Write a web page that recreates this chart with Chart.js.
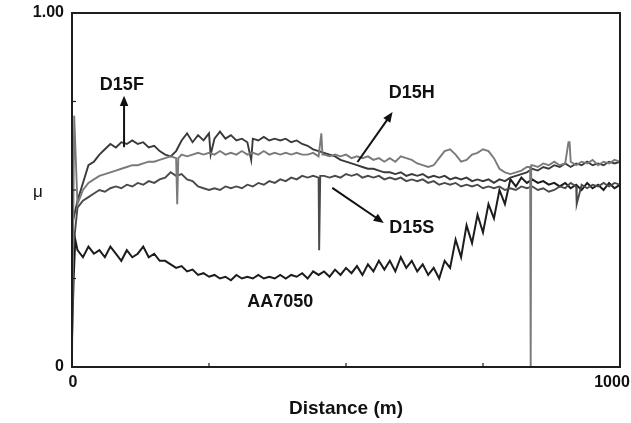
<!DOCTYPE html>
<html>
<head>
<meta charset="utf-8">
<script src="https://cdn.jsdelivr.net/npm/chart.js@4/dist/chart.umd.min.js"></script>
<style>
  html, body { margin: 0; padding: 0; background: #ffffff; }
  #wrap { width: 631px; height: 423px; position: relative; }
</style>
</head>
<body>
<div id="wrap"><canvas id="frictionCanvas" width="631" height="423"></canvas></div>
<script>
// sliding distance (m), shared by all four traces
const distance = [
  0, 10, 20, 30, 40, 50, 60, 70, 80, 90,
  100, 110, 120, 130, 140, 150, 160, 170, 180, 190,
  200, 210, 220, 230, 240, 250, 260, 270, 280, 290,
  300, 310, 320, 330, 340, 350, 360, 370, 380, 390,
  400, 410, 420, 430, 440, 450, 460, 470, 480, 490,
  500, 510, 520, 530, 540, 550, 560, 570, 580, 590,
  600, 610, 620, 630, 640, 650, 660, 670, 680, 690,
  700, 710, 720, 730, 740, 750, 760, 770, 780, 790,
  800, 810, 820, 830, 840, 850, 860, 870, 880, 890,
  900, 910, 920, 930, 940, 950, 960, 970, 980, 990,
  1000
];

// friction coefficient
const muAA7050 = [
  0.08, 0.33, 0.31, 0.34, 0.32, 0.33, 0.31, 0.34, 0.32, 0.30,
  0.33, 0.31, 0.32, 0.34, 0.31, 0.32, 0.30, 0.30, 0.29, 0.28,
  0.285, 0.27, 0.275, 0.26, 0.265, 0.255, 0.26, 0.25, 0.255, 0.245,
  0.26, 0.25, 0.255, 0.25, 0.26, 0.25, 0.255, 0.25, 0.26, 0.25,
  0.26, 0.255, 0.265, 0.25, 0.27, 0.26, 0.27, 0.255, 0.275, 0.26,
  0.28, 0.265, 0.285, 0.26, 0.29, 0.27, 0.30, 0.275, 0.30, 0.27,
  0.31, 0.28, 0.30, 0.27, 0.29, 0.26, 0.28, 0.25, 0.30, 0.28,
  0.36, 0.31, 0.40, 0.35, 0.43, 0.38, 0.46, 0.42, 0.50, 0.46,
  0.53, 0.51, 0.535, 0.52, 0.53, 0.52, 0.525, 0.515, 0.52, 0.51,
  0.52, 0.505, 0.515, 0.50, 0.52, 0.505, 0.515, 0.50, 0.52, 0.505,
  0.515
];
const muD15S = [
  0.30, 0.45, 0.47, 0.48, 0.49, 0.50, 0.495, 0.505, 0.51, 0.505,
  0.515, 0.51, 0.52, 0.515, 0.525, 0.52, 0.53, 0.535, 0.55, 0.54,
  0.545, 0.53, 0.525, 0.51, 0.505, 0.50, 0.505, 0.50, 0.51, 0.505,
  0.51, 0.505, 0.515, 0.51, 0.52, 0.515, 0.525, 0.52, 0.53, 0.525,
  0.535, 0.53, 0.54, 0.535, 0.54, 0.535, 0.54, 0.535, 0.54, 0.535,
  0.545, 0.54, 0.545, 0.535, 0.54, 0.535, 0.54, 0.53, 0.535, 0.53,
  0.535, 0.525, 0.53, 0.525, 0.53, 0.52, 0.525, 0.515, 0.52, 0.515,
  0.52, 0.51, 0.515, 0.51, 0.515, 0.505, 0.51, 0.505, 0.51, 0.50,
  0.505, 0.50, 0.51, 0.505, 0.51, 0.50, 0.505, 0.495, 0.50, 0.51,
  0.505, 0.52, 0.51, 0.515, 0.505, 0.515, 0.51, 0.52, 0.51, 0.52,
  0.515
];
const muD15H = [
  0.02, 0.46, 0.50, 0.52, 0.53, 0.54, 0.545, 0.55, 0.555, 0.56,
  0.565, 0.57, 0.57, 0.575, 0.58, 0.58, 0.585, 0.59, 0.595, 0.59,
  0.60, 0.595, 0.60, 0.605, 0.60, 0.605, 0.60, 0.61, 0.60, 0.605,
  0.60, 0.61, 0.60, 0.605, 0.60, 0.61, 0.60, 0.605, 0.60, 0.605,
  0.60, 0.605, 0.60, 0.60, 0.605, 0.595, 0.60, 0.595, 0.60, 0.595,
  0.60, 0.59, 0.595, 0.59, 0.595, 0.585, 0.59, 0.58, 0.59, 0.58,
  0.595, 0.59, 0.585, 0.575, 0.57, 0.565, 0.57, 0.59, 0.61, 0.615,
  0.60, 0.58, 0.585, 0.60, 0.605, 0.615, 0.61, 0.59, 0.56, 0.55,
  0.545, 0.55, 0.555, 0.565, 0.57, 0.565, 0.575, 0.57, 0.58, 0.57,
  0.575, 0.58, 0.57, 0.58, 0.575, 0.585, 0.57, 0.58, 0.575, 0.585,
  0.58
];
const muD15F = [
  0.40, 0.47, 0.52, 0.57, 0.58, 0.60, 0.615, 0.63, 0.62, 0.635,
  0.63, 0.64, 0.63, 0.635, 0.62, 0.625, 0.61, 0.60, 0.595, 0.61,
  0.64, 0.66, 0.635, 0.655, 0.64, 0.66, 0.645, 0.665, 0.645, 0.655,
  0.64, 0.645, 0.635, 0.645, 0.64, 0.65, 0.64, 0.645, 0.64, 0.645,
  0.635, 0.64, 0.63, 0.625, 0.615, 0.61, 0.605, 0.60, 0.595, 0.585,
  0.58, 0.575, 0.57, 0.565, 0.56, 0.56, 0.555, 0.55, 0.55, 0.545,
  0.55, 0.54, 0.545, 0.54, 0.545, 0.535, 0.54, 0.535, 0.54, 0.53,
  0.535, 0.53, 0.535, 0.525, 0.53, 0.525, 0.53, 0.52, 0.53, 0.525,
  0.535, 0.54, 0.545, 0.55, 0.56, 0.555, 0.565, 0.56, 0.57, 0.565,
  0.575, 0.565, 0.575, 0.57, 0.58, 0.57, 0.575, 0.57, 0.58, 0.575,
  0.58
];

// short spikes and drops between the 10 m readings: [distance, mu]
const spikesAA7050 = [[3, 0.25], [6, 0.36]];
const spikesD15S = [[451, 0.33], [453, 0.54], [921, 0.46]];
const spikesD15H = [[4, 0.71], [192, 0.46], [194, 0.59], [455, 0.66], [457, 0.60],
  [836, 0.565], [837, 0.0], [838, 0.57], [906, 0.635], [908, 0.635]];
const spikesD15F = [[253, 0.60], [327, 0.585]];

// axis ticks
const xTickMarks = [250, 500, 750];
const yTickMarks = [0.25, 0.5, 0.75];

// callout labels with arrows, in data units
const callouts = [
  { text: 'D15F', at: [91, 0.797], from: [95, 0.621], to: [95, 0.766] },
  { text: 'D15H', at: [620, 0.774], from: [521, 0.579], to: [585, 0.720] },
  { text: 'D15S', at: [620, 0.393], from: [475, 0.506], to: [569, 0.407] },
  { text: 'AA7050', at: [380, 0.184] }
];

function buildSeries(values, spikes) {
  const pts = distance.map((d, i) => ({ x: d, y: values[i] }));
  spikes.forEach(s => pts.push({ x: s[0], y: s[1] }));
  pts.sort((a, b) => a.x - b.x);
  return pts;
}

function drawArrow(ctx, x1, y1, x2, y2) {
  const ang = Math.atan2(y2 - y1, x2 - x1);
  const head = 11;
  ctx.beginPath();
  ctx.moveTo(x1, y1);
  ctx.lineTo(x2 - Math.cos(ang) * head * 0.8, y2 - Math.sin(ang) * head * 0.8);
  ctx.stroke();
  ctx.beginPath();
  ctx.moveTo(x2, y2);
  ctx.lineTo(x2 - head * Math.cos(ang - 0.4), y2 - head * Math.sin(ang - 0.4));
  ctx.lineTo(x2 - head * Math.cos(ang + 0.4), y2 - head * Math.sin(ang + 0.4));
  ctx.closePath();
  ctx.fill();
}

// frame, inner ticks, axis texts and callouts
const paperDecor = {
  id: 'paperDecor',
  afterDatasetsDraw(chart) {
    const { ctx, chartArea: a, scales: { x, y } } = chart;
    ctx.save();
    ctx.strokeStyle = '#1e1e1e';
    ctx.lineWidth = 2;
    ctx.strokeRect(a.left, a.top, a.right - a.left, a.bottom - a.top);

    ctx.lineWidth = 1.2;
    xTickMarks.forEach(v => {
      const px = x.getPixelForValue(v);
      ctx.beginPath(); ctx.moveTo(px, a.bottom); ctx.lineTo(px, a.bottom - 4); ctx.stroke();
    });
    yTickMarks.forEach(v => {
      const py = y.getPixelForValue(v);
      ctx.beginPath(); ctx.moveTo(a.left, py); ctx.lineTo(a.left + 4, py); ctx.stroke();
    });

    ctx.fillStyle = '#111';
    ctx.font = 'bold 16px "Liberation Sans", Arial, sans-serif';
    ctx.textBaseline = 'middle';
    ctx.textAlign = 'right';
    ctx.fillText('1.00', a.left - 8, y.getPixelForValue(1));
    ctx.fillText('0', a.left - 8, y.getPixelForValue(0));
    ctx.textAlign = 'center';
    ctx.fillText('0', x.getPixelForValue(0) + 1, a.bottom + 16);
    ctx.fillText('1000', x.getPixelForValue(1000) - 8, a.bottom + 16);

    ctx.font = 'bold 19px "Liberation Sans", Arial, sans-serif';
    ctx.fillText('Distance (m)', (a.left + a.right) / 2, a.bottom + 42);
    ctx.font = '17px "Liberation Sans", Arial, sans-serif';
    ctx.fillText('\u03bc', 38, y.getPixelForValue(0.5) + 2);

    ctx.font = 'bold 18px "Liberation Sans", Arial, sans-serif';
    ctx.strokeStyle = '#111';
    ctx.lineWidth = 2;
    callouts.forEach(c => {
      ctx.fillText(c.text, x.getPixelForValue(c.at[0]), y.getPixelForValue(c.at[1]));
      if (c.from) {
        drawArrow(ctx, x.getPixelForValue(c.from[0]), y.getPixelForValue(c.from[1]),
          x.getPixelForValue(c.to[0]), y.getPixelForValue(c.to[1]));
      }
    });
    ctx.restore();
  }
};

const ctx = document.getElementById('frictionCanvas').getContext('2d');
new Chart(ctx, {
  type: 'line',
  data: {
    datasets: [
      { label: 'D15H', data: buildSeries(muD15H, spikesD15H), borderColor: '#7a7a7a', borderWidth: 1.9 },
      { label: 'D15S', data: buildSeries(muD15S, spikesD15S), borderColor: '#4a4a4a', borderWidth: 1.9 },
      { label: 'D15F', data: buildSeries(muD15F, spikesD15F), borderColor: '#3a3a3a', borderWidth: 1.9 },
      { label: 'AA7050', data: buildSeries(muAA7050, spikesAA7050), borderColor: '#1c1c1c', borderWidth: 2 }
    ]
  },
  options: {
    responsive: false,
    animation: false,
    layout: { padding: { left: 72, right: 11, top: 13, bottom: 56 } },
    elements: { point: { radius: 0 }, line: { tension: 0 } },
    plugins: { legend: { display: false }, tooltip: { enabled: false } },
    scales: {
      x: { type: 'linear', min: 0, max: 1000, display: false },
      y: { min: 0, max: 1, display: false }
    }
  },
  plugins: [paperDecor]
});
</script>
</body>
</html>
